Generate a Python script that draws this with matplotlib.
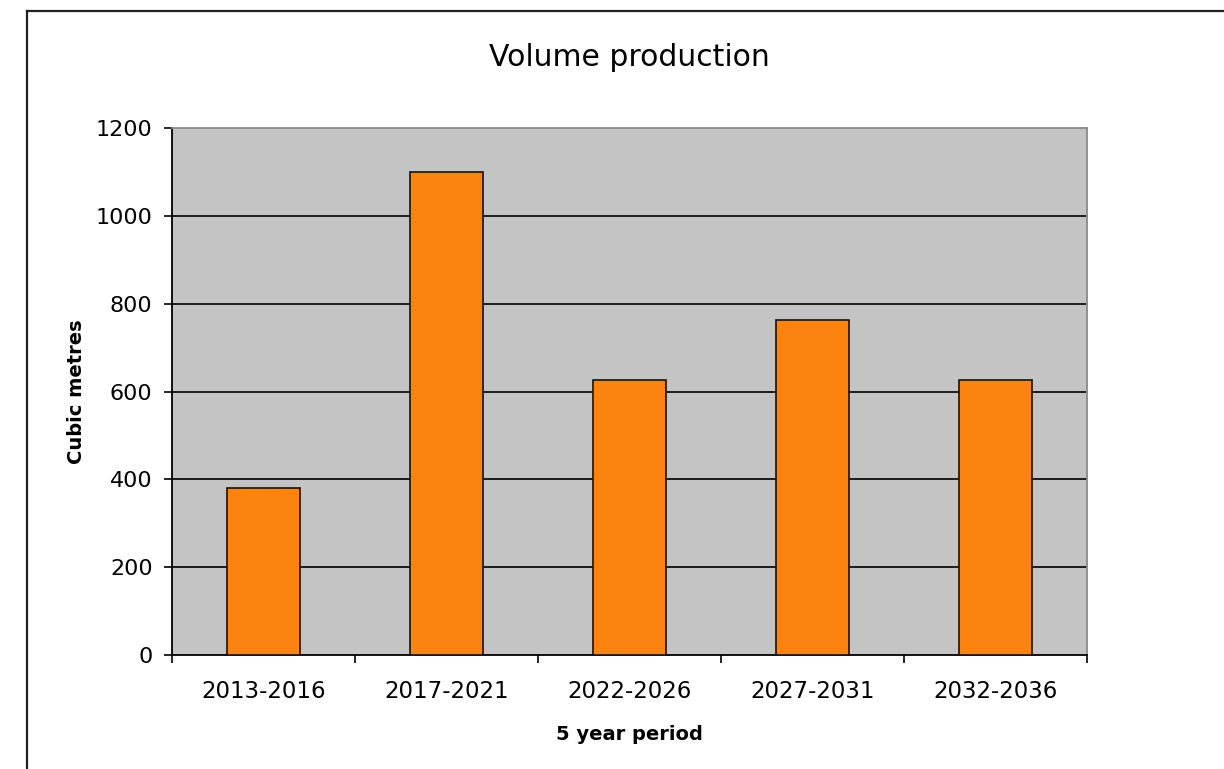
import matplotlib
matplotlib.use("Agg")
import matplotlib.pyplot as plt
from matplotlib.lines import Line2D
import numpy as np

# Данные графика
periods = ["2013-2016", "2017-2021", "2022-2026", "2027-2031", "2032-2036"]
volumes = [380, 1100, 627, 762, 627]
y_ticks = [0, 200, 400, 600, 800, 1000, 1200]

plt.rcParams['font.family'] = ['DejaVu Sans']

fig = plt.figure(figsize=(12.24, 7.69), dpi=100)
ax = fig.add_axes([0.1405, 0.1482, 0.7476, 0.6853])
ax.set_facecolor('#c4c4c4')

x = np.arange(len(periods))
ax.bar(x, volumes, width=0.40, color='#fb8410', edgecolor='#201000',
       linewidth=1.2, zorder=3)

# Сетка
for t in y_ticks[1:-1]:
    ax.axhline(t, color='black', linewidth=1.2, zorder=2)

ax.set_xlim(-0.5, len(periods) - 0.5)
ax.set_ylim(0, 1200)
ax.set_yticks(y_ticks)
ax.set_xticks(x)
ax.set_xticklabels(periods)
ax.set_xticks(np.arange(-0.5, len(periods)), minor=True)
ax.tick_params(axis='x', which='major', length=0, pad=18, labelsize=16.5)
ax.tick_params(axis='x', which='minor', length=6, width=1.2, direction='out')
ax.tick_params(axis='y', length=6, width=1.2, direction='out', pad=8,
               labelsize=16)

for s in ['left', 'bottom']:
    ax.spines[s].set_color('black')
    ax.spines[s].set_linewidth(1.3)
for s in ['top', 'right']:
    ax.spines[s].set_color('#8a8a8a')
    ax.spines[s].set_linewidth(1.3)

ax.set_title("Volume production", fontsize=21.5, pad=45)
ax.set_xlabel("5 year period", fontsize=14, fontweight='bold', labelpad=16)
ax.set_ylabel("Cubic metres", fontsize=14, fontweight='bold', labelpad=7)

# Рамка области диаграммы
fig.add_artist(Line2D([27 / 1224, 27 / 1224], [0, 1 - 11 / 769],
                      transform=fig.transFigure, color='#222222', linewidth=1.6))
fig.add_artist(Line2D([27 / 1224, 1], [1 - 11 / 769, 1 - 11 / 769],
                      transform=fig.transFigure, color='#222222', linewidth=1.6))

fig.savefig("out.png", dpi=100)
